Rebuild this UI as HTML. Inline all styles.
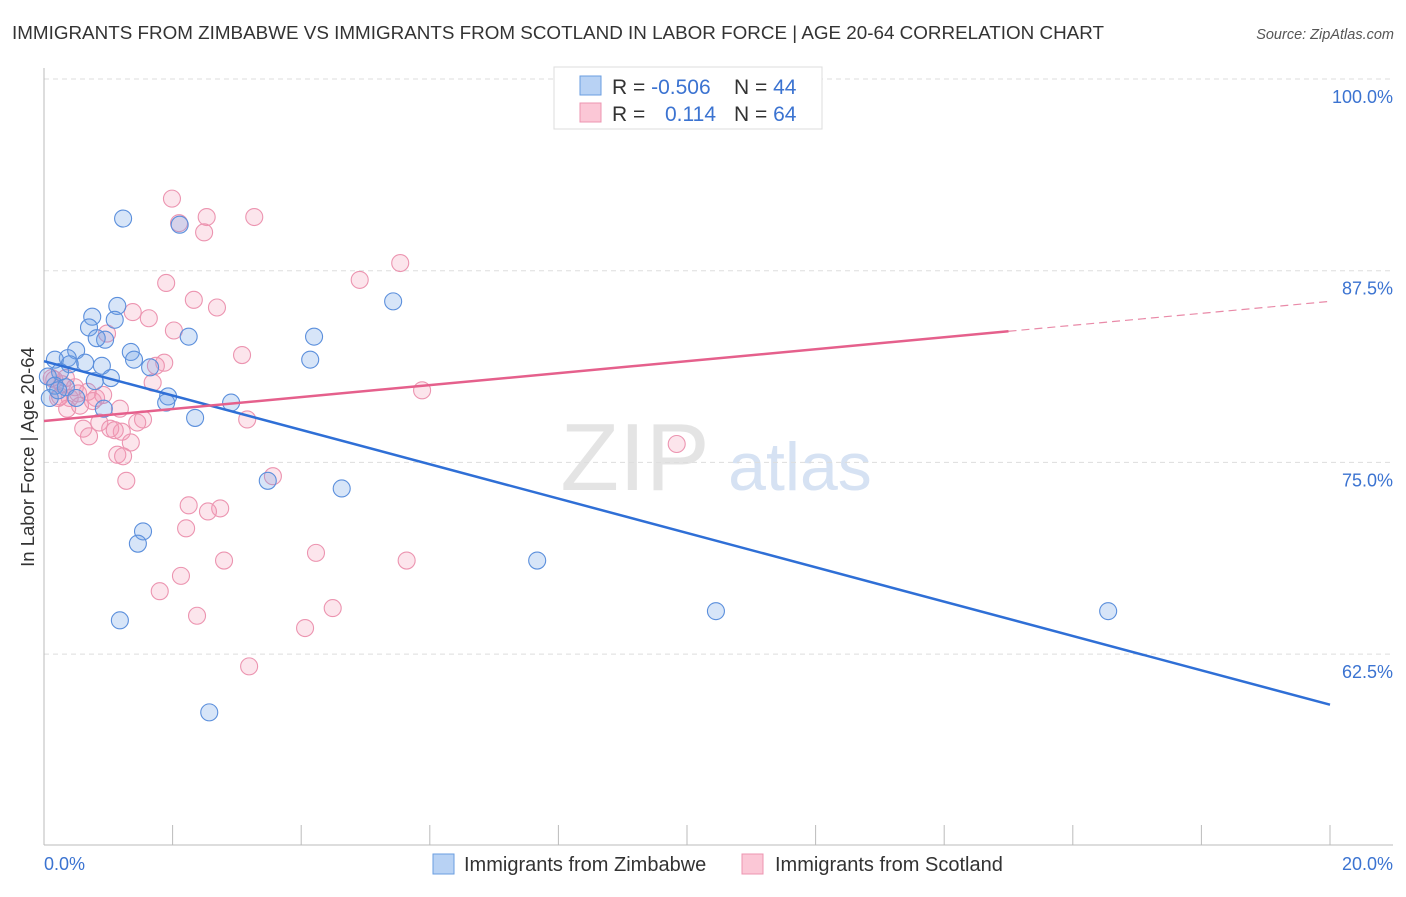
<!DOCTYPE html>
<html><head><meta charset="utf-8"><style>
body{margin:0;background:#fff;font-family:"Liberation Sans",sans-serif}
svg text{font-family:"Liberation Sans",sans-serif}
</style></head><body>
<svg id="c" width="1406" height="892">
<text x="12" y="39" font-size="18" fill="#333" textLength="1092" lengthAdjust="spacingAndGlyphs">IMMIGRANTS FROM ZIMBABWE VS IMMIGRANTS FROM SCOTLAND IN LABOR FORCE | AGE 20-64 CORRELATION CHART</text>
<text x="1394" y="39" font-size="14.5" fill="#555" text-anchor="end" font-style="italic">Source: ZipAtlas.com</text>
<text x="34" y="457" font-size="18.5" fill="#333" text-anchor="middle" transform="rotate(-90 34 457)">In Labor Force | Age 20-64</text>
<g><text x="635" y="490" font-size="96" font-family="Liberation Serif" fill="#e4e4e4" text-anchor="middle">ZIP</text><text x="800" y="490" font-size="68" fill="#d6e2f3" text-anchor="middle">atlas</text></g>
<g id="grid"></g><g id="axes"></g><g id="pts"></g><g id="lines"></g>
<g>
<rect x="554" y="67" width="268" height="62" fill="#fff" stroke="#ddd"/>
<rect x="580" y="76" width="21" height="19" fill="#b8d2f4" stroke="#6a9ee0"/>
<rect x="580" y="103" width="21" height="19" fill="#fbc7d6" stroke="#ec94b0"/>
<text x="612" y="94" font-size="21" fill="#333">R = <tspan fill="#3b73d1">-0.506</tspan></text>
<text x="734" y="94" font-size="21" fill="#333">N = <tspan fill="#3b73d1">44</tspan></text>
<text x="612" y="121" font-size="21" fill="#333">R = </text><text x="716" y="121" font-size="21" fill="#3b73d1" text-anchor="end">0.114</text>
<text x="734" y="121" font-size="21" fill="#333">N = <tspan fill="#3b73d1">64</tspan></text>
</g>
<g>
<rect x="433" y="854" width="21" height="20" fill="#b8d2f4" stroke="#6a9ee0"/>
<text x="464" y="871" font-size="20" fill="#333">Immigrants from Zimbabwe</text>
<rect x="742" y="854" width="21" height="20" fill="#fbc7d6" stroke="#ec94b0"/>
<text x="775" y="871" font-size="20" fill="#333">Immigrants from Scotland</text>
</g>
</svg>
<script>
const yTicks=[100,87.5,75,62.5];
const yTickLabels=["100.0%","87.5%","75.0%","62.5%"];
const xLabels=["0.0%","20.0%"];
const blueX=[1.23,2.11,1.14,0.75,1.10,0.70,0.95,0.82,2.25,4.20,5.43,1.35,0.50,0.37,0.17,0.64,0.40,1.40,0.90,1.65,0.25,0.06,1.04,0.79,0.17,0.34,1.93,1.90,0.93,2.91,2.35,4.14,3.48,4.63,1.54,1.46,7.67,1.18,10.45,16.55,2.57,0.50,0.09,0.22];
const blueY=[90.9,90.5,85.2,84.5,84.3,83.8,83.0,83.1,83.2,83.2,85.5,82.2,82.3,81.8,81.7,81.5,81.4,81.7,81.3,81.2,80.9,80.6,80.5,80.3,80.0,79.9,79.3,78.9,78.5,78.9,77.9,81.7,73.8,73.3,70.5,69.7,68.6,64.7,65.3,65.3,58.7,79.2,79.2,79.7];
const pinkX=[1.99,2.10,2.53,3.27,2.49,5.54,4.91,1.90,2.33,2.69,1.38,1.63,2.02,0.98,3.08,1.87,1.74,1.69,5.88,0.12,0.28,0.48,0.68,0.25,0.40,0.81,0.53,0.76,0.36,1.18,0.16,3.16,1.54,1.45,0.86,0.61,1.03,1.21,0.70,1.35,1.14,1.23,1.28,9.84,3.56,2.25,2.74,2.55,2.21,4.23,5.64,2.80,2.13,1.80,2.38,4.49,4.06,3.19,11.94,0.34,0.22,0.92,0.56,1.10];
const pinkY=[92.2,90.6,91.0,91.0,90.0,88.0,86.9,86.7,85.6,85.1,84.8,84.4,83.6,83.4,82.0,81.5,81.3,80.2,79.7,80.5,80.1,79.9,79.6,79.3,79.2,79.2,79.5,79.0,78.5,78.5,80.4,77.8,77.8,77.6,77.6,77.2,77.2,77.0,76.7,76.3,75.5,75.4,73.8,76.2,74.1,72.2,72.0,71.8,70.7,69.1,68.6,68.6,67.6,66.6,65.0,65.5,64.2,61.7,100.0,80.5,79.2,79.4,78.7,77.1];
const blueLine=[81.6,59.2];
const pinkLine=[77.7,85.5];
const pinkSolidEnd=15.0;
const NS="http://www.w3.org/2000/svg";
const sx=v=>44+v/20*1286, sy=v=>79+(100-v)/12.5*191.7;
function mk(tag,attrs,parent){const e=document.createElementNS(NS,tag);for(const k in attrs)e.setAttribute(k,attrs[k]);document.getElementById(parent).appendChild(e);return e;}
yTicks.forEach((t,i)=>{
 const g=mk('line',{x1:44,x2:1393,y1:sy(t),y2:sy(t),stroke:'#ddd','stroke-dasharray':'5,4'},'grid');
 
 
 const l=mk('text',{x:1393,y:sy(t)+24,'font-size':18,fill:'#3b73d1','text-anchor':'end'},'grid');l.textContent=yTickLabels[i];
 
 
});
mk('line',{x1:44,x2:44,y1:68,y2:845,stroke:'#bbb'},'axes');
mk('line',{x1:44,x2:1393,y1:845,y2:845,stroke:'#bbb'},'axes');
for(let i=0;i<=10;i++){const t=mk('line',{x1:sx(i*2),x2:sx(i*2),y1:825,y2:845,stroke:'#bbb'},'axes');
 
 }
const xl0=mk('text',{x:44,y:870,'font-size':18,fill:'#3b73d1'},'axes');xl0.textContent=xLabels[0];


const xl1=mk('text',{x:1393,y:870,'font-size':18,fill:'#3b73d1','text-anchor':'end'},'axes');xl1.textContent=xLabels[1];


pinkX.forEach((x,i)=>{const c=mk('circle',{cx:sx(x),cy:sy(pinkY[i]),r:8.5,fill:'rgba(244,150,180,0.25)',stroke:'#ec94b0','stroke-width':1.1},'pts');
 
 });
blueX.forEach((x,i)=>{const c=mk('circle',{cx:sx(x),cy:sy(blueY[i]),r:8.5,fill:'rgba(110,160,230,0.28)',stroke:'#5b8fdc','stroke-width':1.1},'pts');
 
 });
const bl=mk('line',{x1:sx(0),y1:sy(blueLine[0]),x2:sx(20),y2:sy(blueLine[1]),stroke:'#2f6fd6','stroke-width':2.5},'lines');


const pAt=x=>pinkLine[0]+(pinkLine[1]-pinkLine[0])*x/20;
const pl=mk('line',{x1:sx(0),y1:sy(pAt(0)),x2:sx(pinkSolidEnd),y2:sy(pAt(pinkSolidEnd)),stroke:'#e5608c','stroke-width':2.5},'lines');


const pd=mk('line',{x1:sx(pinkSolidEnd),y1:sy(pAt(pinkSolidEnd)),x2:sx(20),y2:sy(pAt(20)),stroke:'#e98aa8','stroke-width':1.2,'stroke-dasharray':'8,5'},'lines');


</script>
</body></html>
